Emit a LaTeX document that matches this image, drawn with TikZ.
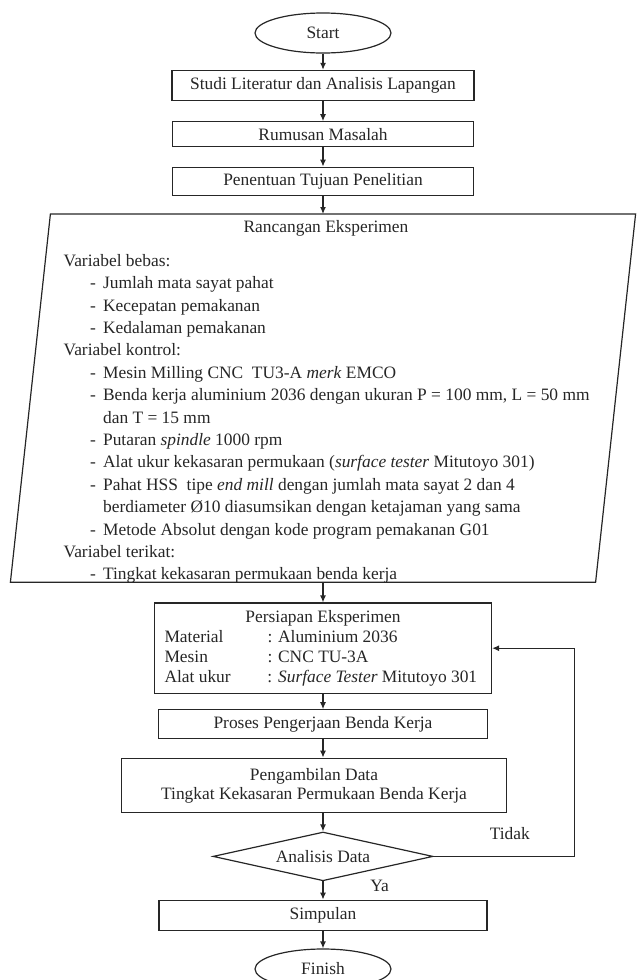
\documentclass[tikz,border=0pt]{standalone}
\usepackage{fontspec}
\setmainfont{Liberation Serif}
\usepackage{array}
\usetikzlibrary{arrows.meta,positioning,shapes.geometric}

\begin{document}
\begin{tikzpicture}[
 x=0.5pt, y=-0.5pt, >={Latex[length=3.5pt,width=3pt]},
 font=\fontsize{8.7}{11.2}\selectfont, line width=0.6pt, color=black!85,
 box/.style={draw, rectangle, inner sep=2pt, align=center},
 term/.style={draw, ellipse, inner sep=0pt, minimum width=68pt, minimum height=20pt},
 decide/.style={draw, diamond, aspect=4.4, inner sep=0pt, minimum width=110pt, minimum height=24.4pt},
 every edge/.style={draw, ->}]
\useasboundingbox (0,0) rectangle (638,980);
\node[term] (start) at (323,33) {Start};
\node[box, below=8.1pt of start, minimum width=151pt, minimum height=15pt] (lit) {Studi Literatur dan Analisis Lapangan};
\node[box, below=10.1pt of lit, minimum width=150.5pt, minimum height=12.5pt] (prob) {Rumusan Masalah};
\node[box, below=9.6pt of prob, minimum width=150.5pt, minimum height=14pt] (goal) {Penentuan Tujuan Penelitian};
\node[inner sep=0pt, below=9.1pt of goal, minimum width=292pt, minimum height=183.5pt] (design) {};
\draw ([xshift=10pt]design.north west) -- ([xshift=10pt]design.north east)
 -- ([xshift=-10pt]design.south east) -- ([xshift=-10pt]design.south west) -- cycle;
\node (designtitle) at (326,228) {Rancangan Eksperimen};
\node[anchor=north west, inner sep=0pt, align=left] (varlist) at (63,250) {%
\begin{tabular}{@{}p{13.25pt}@{}p{6.5pt}@{}l@{}}
\multicolumn{3}{@{}l@{}}{Variabel bebas:}\\
& - & Jumlah mata sayat pahat\\
& - & Kecepatan pemakanan\\
& - & Kedalaman pemakanan\\
\multicolumn{3}{@{}l@{}}{Variabel kontrol:}\\
& - & Mesin Milling CNC\ \ TU3-A \textit{merk} EMCO\\
& - & Benda kerja aluminium 2036 dengan ukuran P = 100 mm, L = 50 mm\\
& & dan T = 15 mm\\
& - & Putaran \textit{spindle} 1000 rpm\\
& - & Alat ukur kekasaran permukaan (\textit{surface tester} Mitutoyo 301)\\
& - & Pahat HSS\ \ tipe \textit{end mill} dengan jumlah mata sayat 2\ dan 4\\
& & berdiameter Ø10 diasumsikan dengan ketajaman yang sama\\
& - & Metode Absolut dengan kode program pemakanan G01\\
\multicolumn{3}{@{}l@{}}{Variabel terikat:}\\
& - & Tingkat kekasaran permukaan benda kerja
\end{tabular}};
\node[box, below=10.1pt of design, minimum width=168.5pt, minimum height=45.2pt, font=\fontsize{8.7}{10}\selectfont] (prep) {%
\begin{tabular}{@{}p{51.5pt}@{}p{107pt}@{}}
\multicolumn{2}{@{}c@{}}{Persiapan Eksperimen}\\
Material & : Aluminium 2036\\
Mesin & : CNC TU-3A\\
Alat ukur & : \textit{Surface Tester} Mitutoyo 301
\end{tabular}};
\node[box, below=7.6pt of prep, minimum width=164.5pt, minimum height=14.5pt] (proc) {Proses Pengerjaan Benda Kerja};
\node[box, below=9.1pt of proc, xshift=-4.5pt, minimum width=192.5pt, minimum height=27.2pt, font=\fontsize{8.7}{9.5}\selectfont] (data) {Pengambilan Data\\ Tingkat Kekasaran Permukaan Benda Kerja};
\node[decide, below=9.1pt of data, xshift=4.5pt] (dec) {Analisis Data};
\node[box, below=9.1pt of dec, minimum width=164pt, minimum height=15.2pt] (simp) {Simpulan};
\node[term, below=8.6pt of simp] (finish) {Finish};
% main flow
\draw (start) edge (lit) (lit) edge (prob) (prob) edge (goal) (goal) edge (design)
 (design) edge (prep) (prep) edge (proc)
 (proc.south) edge (proc.south |- data.north) (data.south -| dec.north) edge (dec.north)
 (dec) edge node[pos=0.25, right=20pt]{Ya} (simp) (simp) edge (finish);
% back to preparation
\draw[->] (dec.east) -- node[pos=0.54, above=4.5pt]{Tidak} ++(141,0) |- (prep.east);
\end{tikzpicture}
\end{document}
